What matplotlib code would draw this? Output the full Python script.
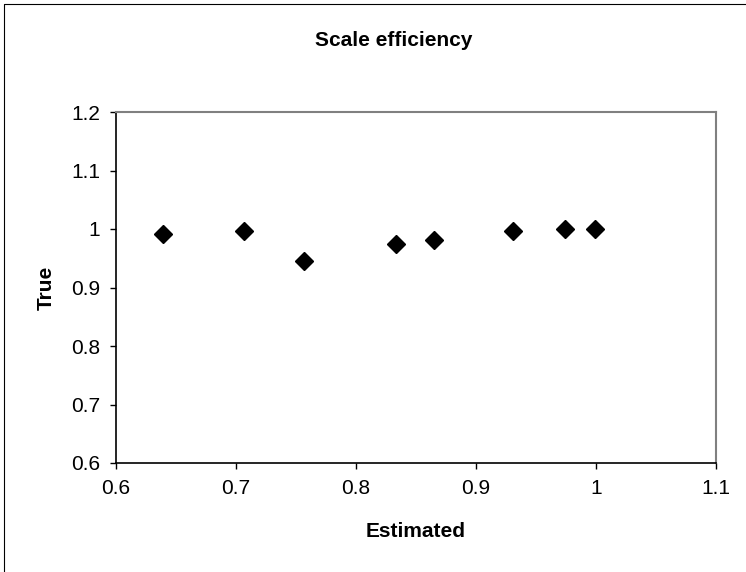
"""Scatter of estimated vs true scale efficiency (Excel-style chart)."""

import matplotlib

matplotlib.use("Agg")

import matplotlib.pyplot as plt
from matplotlib.lines import Line2D

estimated = [0.639, 0.707, 0.757, 0.833, 0.865, 0.931, 0.974, 0.999]
true_vals = [0.992, 0.996, 0.946, 0.974, 0.982, 0.996, 1.000, 1.000]

x_ticks = [0.6, 0.7, 0.8, 0.9, 1.0, 1.1]
x_labels = ["0.6", "0.7", "0.8", "0.9", "1", "1.1"]
y_ticks = [0.6, 0.7, 0.8, 0.9, 1.0, 1.1, 1.2]
y_labels = ["0.6", "0.7", "0.8", "0.9", "1", "1.1", "1.2"]

plt.rcParams["font.family"] = ["Liberation Sans", "DejaVu Sans"]

W, H = 746, 572
fig = plt.figure(figsize=(W / 100, H / 100), dpi=100)
ax = fig.add_axes([116 / W, 1 - 463 / H, 600 / W, 351 / H])

ax.plot(estimated, true_vals, linestyle="none", marker="D", markersize=9.5,
        color="#000000")

ax.set_xlim(0.6, 1.1)
ax.set_ylim(0.6, 1.2)
ax.set_xticks(x_ticks, x_labels)
ax.set_yticks(y_ticks, y_labels)
ax.tick_params(direction="out", length=4.5, width=1.0, color="#000000",
               labelsize=15, pad=7)

for side in ("left", "bottom"):
    ax.spines[side].set_color("#000000")
    ax.spines[side].set_linewidth(1.2)
for side in ("top", "right"):
    ax.spines[side].set_color("#808080")
    ax.spines[side].set_linewidth(1.5)

ax.set_xlabel("Estimated", fontsize=15, fontweight="bold", labelpad=17)
ax.set_ylabel("True", fontsize=15, fontweight="bold", labelpad=11)

fig.text(394 / W, 1 - 40 / H, "Scale efficiency", fontsize=15,
         fontweight="bold", ha="center", va="center")

# outer chart border, only the left and top edges show in the reference
fig.add_artist(Line2D([4 / W, 4 / W, 1.0], [0.0, 1 - 4 / H, 1 - 4 / H],
                      transform=fig.transFigure, color="#000000",
                      linewidth=0.8))

fig.savefig("out.png", dpi=100)
